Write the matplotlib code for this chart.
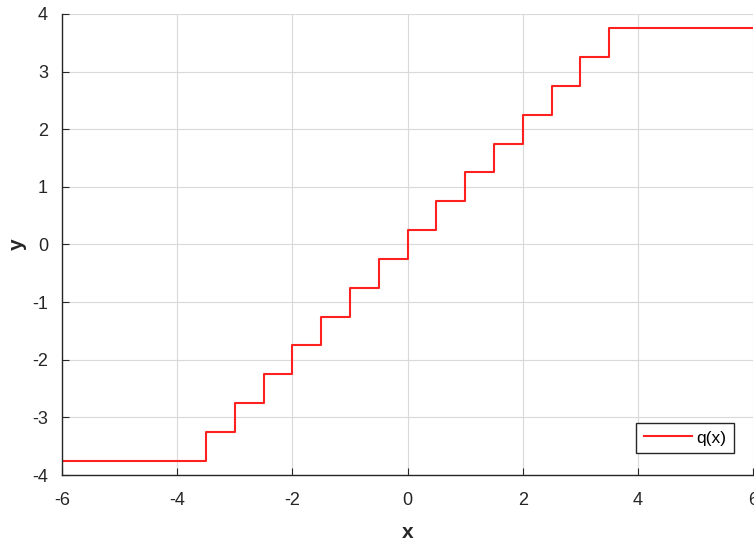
import matplotlib.pyplot as plt

plt.rcParams['font.family'] = ['Liberation Sans', 'DejaVu Sans']
plt.rcParams['axes.unicode_minus'] = False

# 量化器阶梯：断点与电平
x_edges = [-6, -3.5, -3, -2.5, -2, -1.5, -1, -0.5, 0, 0.5, 1, 1.5, 2, 2.5, 3, 3.5, 6]
levels = [-3.75, -3.25, -2.75, -2.25, -1.75, -1.25, -0.75, -0.25,
          0.25, 0.75, 1.25, 1.75, 2.25, 2.75, 3.25, 3.75, 3.75]
x_ticks = [-6, -4, -2, 0, 2, 4, 6]
y_ticks = [-4, -3, -2, -1, 0, 1, 2, 3, 4]

fig = plt.figure(figsize=(7.54, 5.42), dpi=100)
ax = fig.add_axes([0.0822, 0.1236, 0.9166, 0.8506])
ax.step(x_edges, levels, where='post', color='#ff2020', lw=1.5, label='q(x)')

ax.set_xlim(-6, 6)
ax.set_ylim(-4, 4)
ax.set_xticks(x_ticks)
ax.set_yticks(y_ticks)
ax.grid(True, color='#d9d9d9', lw=0.8)
ax.set_axisbelow(True)
for s in ['top', 'right']:
    ax.spines[s].set_visible(False)
for s in ['left', 'bottom']:
    ax.spines[s].set_color('#262626')
    ax.spines[s].set_linewidth(1.0)
ax.tick_params(axis='x', pad=12)
ax.tick_params(axis='y', pad=10)
ax.tick_params(direction='in', length=5, labelsize=13, colors='#262626',
               labelcolor='#262626')
ax.set_xlabel('x', fontsize=15, fontweight='bold', color='#262626', labelpad=10)
ax.set_ylabel('y', fontsize=15, fontweight='bold', color='#262626', labelpad=4)

leg = ax.legend(loc='lower right', bbox_to_anchor=(0.972, 0.047), fontsize=12.5,
                fancybox=False, framealpha=1, edgecolor='#262626',
                borderpad=0.45, handlelength=2.8, handletextpad=0.2, borderaxespad=0)
leg.get_frame().set_linewidth(1.0)

fig.savefig('out.png', dpi=100)
